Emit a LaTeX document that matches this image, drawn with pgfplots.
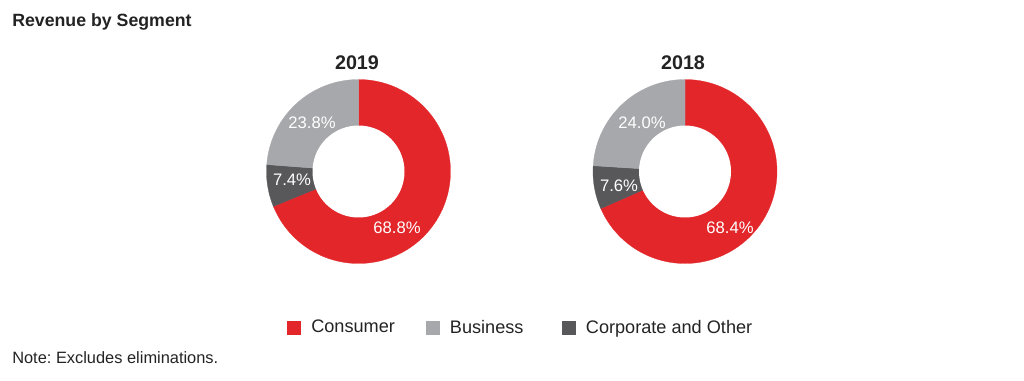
\documentclass[border=0pt]{standalone}
\usepackage{fontspec}
\setmainfont{Liberation Sans}
\usepackage{pgfplots}
\pgfplotsset{compat=1.18}
\frenchspacing
\definecolor{vzred}{HTML}{E3262A}
\definecolor{vzgray}{HTML}{A7A8AC}
\definecolor{vzdark}{HTML}{58585B}
\definecolor{vztext}{HTML}{232323}
% Segment shares (%)
\def\cNine{68.8}\def\bNine{23.8}\def\oNine{7.4}
\def\cEight{68.4}\def\bEight{24.0}\def\oEight{7.6}
% geometry (px units)
\def\R{92}\def\r{46}\def\cy{208.5}
\def\cxA{358.5}\def\cxB{685}
\pgfplotsset{
  sq/.style={legend image code/.code={\fill[##1, draw=none] (0pt,-5.25pt) rectangle (10.5pt,5.25pt);}},
}
\begin{document}
\begin{tikzpicture}
\begin{axis}[
  width=768pt, height=285pt, scale only axis,
  xmin=0, xmax=1024, ymin=0, ymax=380,
  hide axis, clip=false,
  legend columns=3,
  legend style={draw=none, fill=none, at={(axis cs:287,52.5)}, anchor=west,
    inner sep=0pt, nodes={inner sep=0pt}, font=\fontsize{13.6}{16}\selectfont\color{vztext},
    /tikz/every odd column/.append style={column sep=7.5pt},
    /tikz/every even column/.append style={column sep=0pt}},
  legend cell align=left,
]
\path[draw=none] (axis cs:0,0) rectangle (axis cs:1024,380);
% ---- 2019 ----
\addplot[fill=vzred, draw=vzred, line width=0.2pt, domain={90-3.6*\cNine}:90, samples=120, forget plot]
  ({\cxA+\R*cos(x)},{\cy+\R*sin(x)}) -- (axis cs:\cxA,\cy) -- cycle;
\addplot[fill=vzdark, draw=vzdark, line width=0.2pt, domain={90-3.6*(\cNine+\oNine)}:{90-3.6*\cNine}, samples=30, forget plot]
  ({\cxA+\R*cos(x)},{\cy+\R*sin(x)}) -- (axis cs:\cxA,\cy) -- cycle;
\addplot[fill=vzgray, draw=vzgray, line width=0.2pt, domain=-270:{90-3.6*(\cNine+\oNine)}, samples=60, forget plot]
  ({\cxA+\R*cos(x)},{\cy+\R*sin(x)}) -- (axis cs:\cxA,\cy) -- cycle;
\addplot[fill=white, draw=none, domain=0:360, samples=120, forget plot]
  ({\cxA+\r*cos(x)},{\cy+\r*sin(x)}) -- cycle;
% ---- 2018 ----
\addplot[fill=vzred, draw=vzred, line width=0.2pt, domain={90-3.6*\cEight}:90, samples=120, forget plot]
  ({\cxB+\R*cos(x)},{\cy+\R*sin(x)}) -- (axis cs:\cxB,\cy) -- cycle;
\addplot[fill=vzdark, draw=vzdark, line width=0.2pt, domain={90-3.6*(\cEight+\oEight)}:{90-3.6*\cEight}, samples=30, forget plot]
  ({\cxB+\R*cos(x)},{\cy+\R*sin(x)}) -- (axis cs:\cxB,\cy) -- cycle;
\addplot[fill=vzgray, draw=vzgray, line width=0.2pt, domain=-270:{90-3.6*(\cEight+\oEight)}, samples=60, forget plot]
  ({\cxB+\R*cos(x)},{\cy+\R*sin(x)}) -- (axis cs:\cxB,\cy) -- cycle;
\addplot[fill=white, draw=none, domain=0:360, samples=120, forget plot]
  ({\cxB+\r*cos(x)},{\cy+\r*sin(x)}) -- cycle;
% ---- legend ----
\addlegendimage{sq, fill=vzred}
\addlegendentry{\makebox[86pt][l]{Consumer}}
\addlegendimage{sq, fill=vzgray}
\addlegendentry{\makebox[84pt][l]{Business}}
\addlegendimage{sq, fill=vzdark}
\addlegendentry{Corporate and Other}
% ---- texts ----
\node[anchor=west, inner sep=0pt, font=\fontsize{13.3}{15}\selectfont\bfseries, text=vztext] at (axis cs:12,358) {Revenue by Segment};
\node[anchor=west, inner sep=0pt, font=\fontsize{12.3}{14}\selectfont, text=vztext] at (axis cs:12,22) {Note: Excludes eliminations.};
\node[inner sep=0pt, font=\fontsize{14.8}{17}\selectfont\bfseries, text=vztext] at (axis cs:357,317) {2019};
\node[inner sep=0pt, font=\fontsize{14.8}{17}\selectfont\bfseries, text=vztext] at (axis cs:683,317) {2018};
\begin{scope}[every node/.style={inner sep=0pt, text=white, font=\fontsize{12.5}{15}\selectfont}]
\node at (axis cs:397,152) {68.8\%};
\node at (axis cs:292,200) {7.4\%};
\node at (axis cs:312,257) {23.8\%};
\node at (axis cs:730,152) {68.4\%};
\node at (axis cs:619,194) {7.6\%};
\node at (axis cs:642,257) {24.0\%};
\end{scope}
\end{axis}
\end{tikzpicture}
\end{document}
